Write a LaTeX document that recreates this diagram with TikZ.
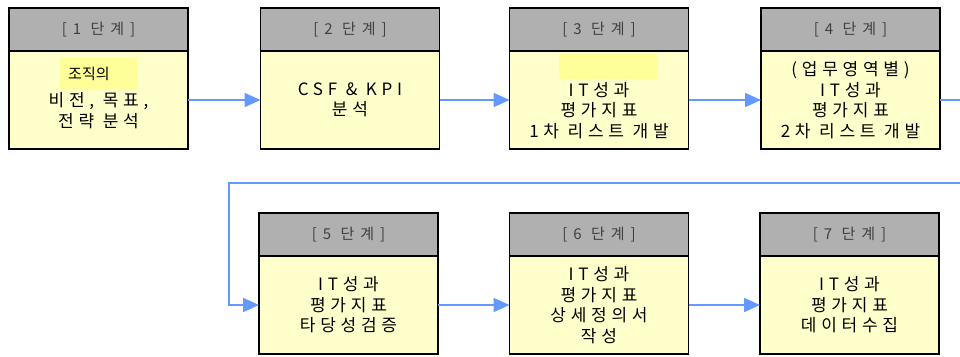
\documentclass[tikz,border=0pt]{standalone}
\usepackage{fontspec}
\setmainfont{Noto Sans CJK KR}
\newfontfamily\kr[LetterSpace=28]{Noto Sans CJK KR}
\newfontfamily\krwide[LetterSpace=40]{Noto Sans CJK KR}
\usetikzlibrary{positioning,arrows.meta}
\definecolor{dangye}{HTML}{B0B0B0}
\definecolor{naeyong}{HTML}{FFFFCC}
\definecolor{gangjo}{HTML}{FFFF99}
\definecolor{hwasal}{HTML}{6699FF}
\begin{document}
\begin{tikzpicture}[x=1pt,y=-1pt,
   meori/.style={draw,line width=1.2pt,fill=dangye,outer sep=0pt,inner sep=0pt,
      minimum width=179pt,minimum height=43pt,anchor=north,text=black!75,
      font=\fontsize{15}{18}\selectfont\krwide},
   momtong/.style={draw,line width=1.2pt,fill=naeyong,outer sep=0pt,inner sep=0pt,
      minimum width=179pt,minimum height=98pt,align=center,below=0pt of #1,
      font=\fontsize{17}{20.5}\selectfont\kr},
   teul/.style={hwasal,line width=2pt},
   hwa/.style={teul,-{Triangle[length=16pt,width=14pt]}}]
   \useasboundingbox (0,0) rectangle (960,356);
   % first row
   \node[meori] (h1) at (98.5,8) {[1 단계]};
   \node[momtong=h1] (b1) {\strut\\비전, 목표,\\전략 분석};
   \node[meori] (h2) at (350,8) {[2 단계]};
   \node[momtong=h2] (b2) {CSF \& KPI\\분석};
   \node[meori] (h3) at (599,8) {[3 단계]};
   \node[momtong=h3] (b3) {\strut\\IT성과\\평가지표\\1차 리스트 개발};
   \node[meori] (h4) at (850.5,8) {[4 단계]};
   \node[momtong=h4] (b4) {(업무영역별)\\IT성과\\평가지표\\2차 리스트 개발};
   % highlights
   \node[fill=gangjo,anchor=north west,minimum width=77pt,minimum height=31pt,
      inner xsep=8pt,inner ysep=0pt,text width=61pt,align=left,
      font=\fontsize{15}{17}\selectfont] (g1) at (60,58) {조직의};
   \node[fill=gangjo,anchor=north west,minimum width=98pt,minimum height=25pt,
      inner sep=0pt] (g3) at (559,54) {};
   % second row
   \node[meori] (h5) at (348.5,213) {[5 단계]};
   \node[momtong=h5] (b5) {IT성과\\평가지표\\타당성검증};
   \node[meori] (h6) at (599,213) {[6 단계]};
   \node[momtong=h6] (b6) {IT성과\\평가지표\\상세정의서\\작성};
   \node[meori] (h7) at (849.5,213) {[7 단계]};
   \node[momtong=h7] (b7) {IT성과\\평가지표\\데이터수집};
   % connectors
   \coordinate (oreun) at (960,183);
   \coordinate (oen) at (229,183);
   \draw[hwa] (b1) -- (b2);
   \draw[hwa] (b2) -- (b3);
   \draw[hwa] (b3) -- (b4);
   \draw[teul] (b4.east) -- (b4.east -| oreun);
   \draw[hwa] (oreun) -- (oen) |- (b5.west);
   \draw[hwa] (b5) -- (b6);
   \draw[hwa] (b6) -- (b7);
\end{tikzpicture}
\end{document}
